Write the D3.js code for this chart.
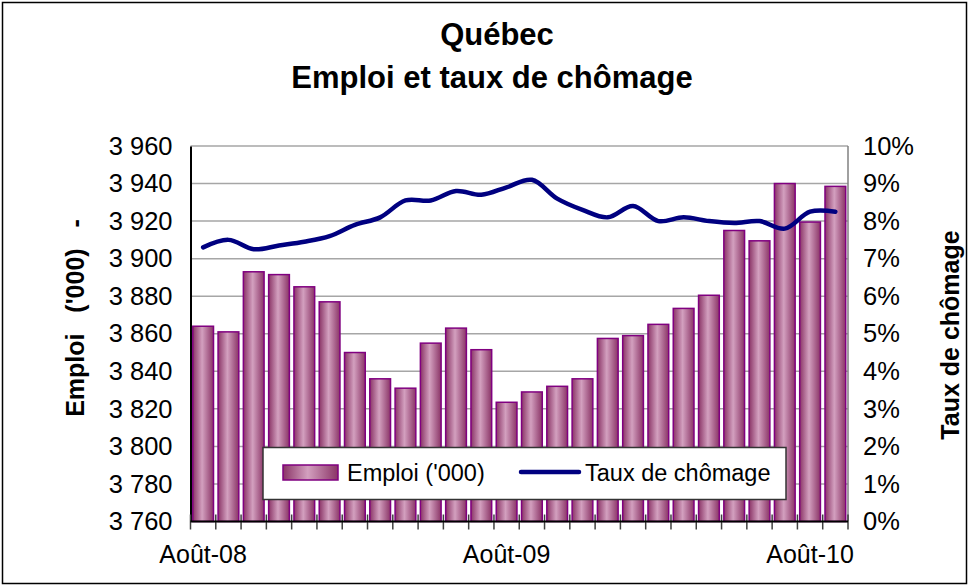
<!DOCTYPE html>
<html>
<head>
<meta charset="utf-8">
<script src="https://cdn.jsdelivr.net/npm/d3@7"></script>
<style>
    body { margin: 0; background: #fff; }
    text { font-family: Arial, "Liberation Sans", sans-serif; }
</style>
</head>
<body>
<div id="chart"></div>
<script>
// Months Aug 2008 - Sep 2010.
var months = ['Août-08', 'Sept-08', 'Oct-08', 'Nov-08', 'Déc-08', 'Janv-09', 'Févr-09', 'Mars-09',
    'Avr-09', 'Mai-09', 'Juin-09', 'Juil-09', 'Août-09', 'Sept-09', 'Oct-09', 'Nov-09', 'Déc-09',
    'Janv-10', 'Févr-10', 'Mars-10', 'Avr-10', 'Mai-10', 'Juin-10', 'Juil-10', 'Août-10', 'Sept-10'];

// Emploi ('000).
var emploi = [3864, 3861, 3893, 3891.5, 3885, 3877, 3850, 3836, 3831, 3855, 3863, 3851.5, 3823.5,
    3829, 3832, 3836, 3857.5, 3859, 3865, 3873.5, 3880.5, 3915, 3909.5, 3940, 3919.5, 3938.5];

// Taux de chômage (%).
var taux = [7.3, 7.5, 7.25, 7.35, 7.45, 7.6, 7.9, 8.1, 8.55, 8.55, 8.8, 8.7, 8.9, 9.1, 8.6, 8.3,
    8.1, 8.4, 8.0, 8.1, 8.0, 7.95, 8.0, 7.8, 8.25, 8.25];

var shownLabels = ['Août-08', 'Août-09', 'Août-10'];
var leftTicks = d3.range(3760, 3961, 20);
var rightTicks = d3.range(0, 11, 1);

var width = 969, height = 586;
var plot = { left: 190.5, right: 848, top: 146, bottom: 521.5 };

var svg = d3.select('#chart').append('svg')
    .attr('width', width)
    .attr('height', height);

// Bar gradient.
var grad = svg.append('defs').append('linearGradient')
    .attr('id', 'barGrad')
    .attr('x1', 0).attr('x2', 1).attr('y1', 0).attr('y2', 0);
grad.append('stop').attr('offset', '0%').attr('stop-color', '#8a3466');
grad.append('stop').attr('offset', '45%').attr('stop-color', '#d3a0bf');
grad.append('stop').attr('offset', '100%').attr('stop-color', '#8a3466');

// Outer border.
svg.append('rect')
    .attr('x', 2.5).attr('y', 2.5)
    .attr('width', width - 5).attr('height', height - 5)
    .attr('fill', '#fff')
    .attr('stroke', '#000')
    .attr('stroke-width', 1.5);

// Scales.
var x = d3.scaleBand()
    .domain(months)
    .range([plot.left, plot.right])
    .paddingInner(0.18)
    .paddingOuter(0.09);

var y = d3.scaleLinear().domain([3760, 3960]).range([plot.bottom, plot.top]);
var y2 = d3.scaleLinear().domain([0, 10]).range([plot.bottom, plot.top]);

// Gridlines.
svg.append('g')
    .selectAll('line')
    .data(leftTicks.slice(1))
    .enter()
    .append('line')
    .attr('x1', plot.left).attr('x2', plot.right)
    .attr('y1', function(d) { return y(d); })
    .attr('y2', function(d) { return y(d); })
    .attr('stroke', '#a6a6a6')
    .attr('stroke-width', 1.5);

// Plot border (right side).
svg.append('line')
    .attr('x1', plot.right).attr('x2', plot.right)
    .attr('y1', plot.top).attr('y2', plot.bottom)
    .attr('stroke', '#808080')
    .attr('stroke-width', 1.5);

// Bars.
svg.append('g')
    .selectAll('rect')
    .data(emploi)
    .enter()
    .append('rect')
    .attr('x', function(d, i) { return x(months[i]); })
    .attr('width', x.bandwidth())
    .attr('y', function(d) { return y(d); })
    .attr('height', function(d) { return plot.bottom - y(d); })
    .attr('fill', 'url(#barGrad)')
    .attr('stroke', '#800080')
    .attr('stroke-width', 1.5);

// Unemployment line.
var line = d3.line()
    .x(function(d, i) { return x(months[i]) + x.bandwidth() / 2; })
    .y(function(d) { return y2(d); })
    .curve(d3.curveCatmullRom.alpha(0.5));

svg.append('path')
    .datum(taux)
    .attr('d', line)
    .attr('fill', 'none')
    .attr('stroke', '#000080')
    .attr('stroke-width', 4.5)
    .attr('stroke-linecap', 'round');

// Left axis.
var leftAxis = svg.append('g')
    .attr('transform', 'translate(' + plot.left + ',0)')
    .call(d3.axisLeft(y).tickValues(leftTicks).tickSize(0).tickPadding(18)
        .tickFormat(function(d) { return d3.format(',')(d).replace(',', ' '); }));
leftAxis.select('.domain').attr('stroke', '#000').attr('stroke-width', 2);
leftAxis.selectAll('text').style('font-size', '25.5px').attr('fill', '#000');

// Right axis.
var rightAxis = svg.append('g')
    .attr('transform', 'translate(' + plot.right + ',0)')
    .call(d3.axisRight(y2).tickValues(rightTicks).tickSize(0).tickPadding(15)
        .tickFormat(function(d) { return d + '%'; }));
rightAxis.select('.domain').remove();
rightAxis.selectAll('text').style('font-size', '25.5px').attr('fill', '#000');

// Bottom axis: tick marks at category boundaries.
var step = x.step();
var boundaries = months.map(function(m) { return x(m) - step * x.paddingInner() / 2; });
boundaries.push(plot.right);
svg.append('g')
    .selectAll('line')
    .data(boundaries)
    .enter()
    .append('line')
    .attr('x1', function(d) { return d; })
    .attr('x2', function(d) { return d; })
    .attr('y1', plot.bottom - 7)
    .attr('y2', plot.bottom + 8)
    .attr('stroke', '#404040')
    .attr('stroke-width', 1.5);

svg.append('line')
    .attr('x1', plot.left).attr('x2', plot.right)
    .attr('y1', plot.bottom).attr('y2', plot.bottom)
    .attr('stroke', '#000')
    .attr('stroke-width', 2);

svg.append('g')
    .selectAll('text')
    .data(shownLabels)
    .enter()
    .append('text')
    .attr('x', function(d) { return x(d) + x.bandwidth() / 2; })
    .attr('y', 563)
    .attr('text-anchor', 'middle')
    .style('font-size', '25px')
    .text(function(d) { return d; });

// Titles.
svg.append('text')
    .attr('x', 497).attr('y', 45)
    .attr('text-anchor', 'middle')
    .style('font-size', '31px').style('font-weight', 'bold')
    .text('Québec');
svg.append('text')
    .attr('x', 492).attr('y', 88)
    .attr('text-anchor', 'middle')
    .style('font-size', '31px').style('font-weight', 'bold')
    .text('Emploi et taux de chômage');

svg.append('text')
    .attr('transform', 'translate(84,318) rotate(-90)')
    .attr('text-anchor', 'middle')
    .style('font-size', '25px').style('font-weight', 'bold')
    .style('white-space', 'pre')
    .text("Emploi   ('000)   -");
svg.append('text')
    .attr('transform', 'translate(959,335) rotate(-90)')
    .attr('text-anchor', 'middle')
    .style('font-size', '25px').style('font-weight', 'bold')
    .text('Taux de chômage');

// Legend.
var legend = svg.append('g');
legend.append('rect')
    .attr('x', 263).attr('y', 447.5)
    .attr('width', 523).attr('height', 52)
    .attr('fill', '#fff')
    .attr('stroke', '#333')
    .attr('stroke-width', 1.5);
legend.append('rect')
    .attr('x', 283).attr('y', 465)
    .attr('width', 55).attr('height', 15)
    .attr('fill', 'url(#barGrad)')
    .attr('stroke', '#800080')
    .attr('stroke-width', 1.5);
legend.append('text')
    .attr('x', 347).attr('y', 481)
    .style('font-size', '23.5px')
    .text("Emploi ('000)");
legend.append('line')
    .attr('x1', 521).attr('x2', 579)
    .attr('y1', 472).attr('y2', 472)
    .attr('stroke', '#000080')
    .attr('stroke-width', 4.5)
    .attr('stroke-linecap', 'round');
legend.append('text')
    .attr('x', 585).attr('y', 481)
    .style('font-size', '23.5px')
    .text('Taux de chômage');
</script>
</body>
</html>
